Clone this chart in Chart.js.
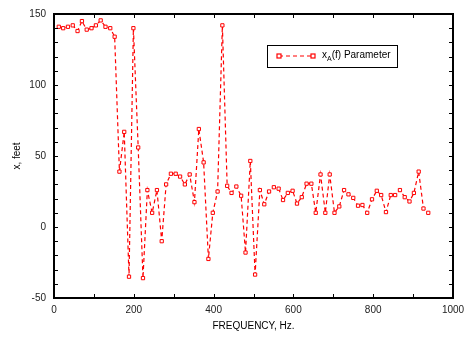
<!DOCTYPE html>
<html>
<head>
<meta charset="utf-8">
<title>x(f) Parameter</title>
<script src="https://cdn.jsdelivr.net/npm/chart.js@4.4.0/dist/chart.umd.min.js"></script>
<style>
html, body { margin: 0; padding: 0; background: #fff; }
canvas { display: block; }
</style>
</head>
<body>
<canvas id="chart_x" width="473" height="337"></canvas>
<script>
// frequency of each sample, Hz
var frequencies = [12, 23, 35, 47, 59, 70, 82, 94, 105, 117, 129, 141, 152, 164, 176, 188,
    199, 211, 223, 234, 246, 258, 270, 281, 293, 305, 316, 328, 340, 352, 363, 375,
    387, 398, 410, 422, 434, 445, 457, 469, 480, 492, 504, 516, 527, 539, 551, 563,
    574, 586, 598, 609, 621, 633, 645, 656, 668, 680, 691, 703, 715, 727, 738, 750,
    762, 773, 785, 797, 809, 820, 832, 844, 855, 867, 879, 891, 902, 914, 926, 938];

// x_A(f), feet
var xValues = [141, 140, 141, 142, 138, 145, 139, 140, 142, 145.5, 141, 140, 134, 39, 67, -35,
    140, 56, -36, 26, 10, 26, -10, 30, 37.5, 37.5, 35.5, 30, 37, 17.5, 69, 45.5,
    -22.5, 10, 25, 142, 29, 24, 28.5, 22, -18, 46.5, -33.5, 26, 16, 25, 28, 27,
    19, 24, 25.5, 16.5, 21, 30.5, 30.5, 10, 37, 10, 37, 10, 14.5, 26, 23, 20.5,
    15, 15.5, 10, 19.5, 25.5, 22.5, 10.5, 22.5, 22.5, 26, 21, 18, 24, 39, 13, 10];

var xTicks = [0, 200, 400, 600, 800, 1000];
var yTicks = [-50, 0, 50, 100, 150];
var seriesName = "(f) Parameter";

var red = "#ff0000";
var fontFamily = "'Liberation Sans', Arial, sans-serif";

var points = [];
for (var i = 0; i < frequencies.length; i++) {
    points.push({ x: frequencies[i], y: xValues[i] });
}

// frame with inward ticks on all four sides
var framePlugin = {
    id: "frame",
    afterDraw: function(chart) {
        var ctx = chart.ctx;
        var a = chart.chartArea;
        var sx = chart.scales.x;
        var sy = chart.scales.y;
        ctx.save();
        ctx.strokeStyle = "#000";
        ctx.lineWidth = 1;
        ctx.beginPath();
        for (var f = 0; f <= 1000; f += 100) {
            var px = Math.round(sx.getPixelForValue(f)) + 0.5;
            ctx.moveTo(px, a.bottom); ctx.lineTo(px, a.bottom - 4);
            ctx.moveTo(px, a.top); ctx.lineTo(px, a.top + 4);
        }
        for (var v = -50; v <= 150; v += 10) {
            var py = Math.round(sy.getPixelForValue(v)) + 0.5;
            ctx.moveTo(a.left, py); ctx.lineTo(a.left + 4, py);
            ctx.moveTo(a.right, py); ctx.lineTo(a.right - 4, py);
        }
        ctx.stroke();
        ctx.lineWidth = 2;
        ctx.strokeRect(a.left, a.top, a.right - a.left, a.bottom - a.top);
        ctx.restore();
    }
};

// boxed legend with subscript
var legendPlugin = {
    id: "boxLegend",
    afterDraw: function(chart) {
        var ctx = chart.ctx;
        var bx = 267, by = 45, bw = 130, bh = 22;
        var cy = by + bh / 2;
        ctx.save();
        ctx.fillStyle = "#fff";
        ctx.fillRect(bx, by, bw, bh);
        ctx.strokeStyle = "#000";
        ctx.lineWidth = 1;
        ctx.strokeRect(bx + 0.5, by + 0.5, bw, bh);

        ctx.strokeStyle = red;
        ctx.lineWidth = 1.2;
        ctx.setLineDash([4, 3]);
        ctx.beginPath();
        ctx.moveTo(279, cy); ctx.lineTo(313, cy);
        ctx.stroke();
        ctx.setLineDash([]);
        [279, 313].forEach(function(px) {
            ctx.fillStyle = "#fff";
            ctx.fillRect(px - 2, cy - 2, 4, 4);
            ctx.strokeRect(px - 2, cy - 2, 4, 4);
        });

        ctx.fillStyle = "#000";
        ctx.textBaseline = "middle";
        ctx.font = "10px " + fontFamily;
        var tx = 322;
        ctx.fillText("x", tx, cy - 1);
        tx += ctx.measureText("x").width;
        ctx.font = "7px " + fontFamily;
        ctx.fillText("A", tx, cy + 3);
        tx += ctx.measureText("A").width;
        ctx.font = "10px " + fontFamily;
        ctx.fillText(seriesName, tx, cy - 1);
        ctx.restore();
    }
};

new Chart(document.getElementById("chart_x"), {
    type: "line",
    data: {
        datasets: [{
            label: "xA(f) Parameter",
            data: points,
            borderColor: red,
            borderWidth: 1.2,
            borderDash: [4, 3],
            backgroundColor: "#fff",
            pointStyle: "rect",
            pointRadius: 2.3,
            pointBorderWidth: 1,
            pointBorderColor: red,
            pointBackgroundColor: "#fff",
            tension: 0
        }]
    },
    options: {
        responsive: false,
        animation: false,
        layout: { padding: { left: 0, top: 10, right: 20, bottom: 0 } },
        plugins: {
            legend: { display: false },
            tooltip: { enabled: false }
        },
        scales: {
            x: {
                type: "linear",
                min: 0,
                max: 1000,
                afterFit: function(scale) { scale.height = 39; },
                afterBuildTicks: function(scale) {
                    scale.ticks = xTicks.map(function(v) { return { value: v }; });
                },
                grid: { display: false, drawTicks: false },
                border: { display: false },
                ticks: {
                    color: "#222",
                    padding: 6,
                    maxRotation: 0,
                    font: { family: fontFamily, size: 10 },
                    callback: function(value) { return String(value); }
                },
                title: {
                    display: true,
                    text: "FREQUENCY, Hz.",
                    color: "#000",
                    padding: { top: 0, bottom: 5 },
                    font: { family: fontFamily, size: 10 }
                }
            },
            y: {
                type: "linear",
                min: -50,
                max: 150,
                afterFit: function(scale) { scale.width = 54; },
                afterBuildTicks: function(scale) {
                    scale.ticks = yTicks.map(function(v) { return { value: v }; });
                },
                grid: { display: false, drawTicks: false },
                border: { display: false },
                ticks: {
                    color: "#222",
                    padding: 8,
                    font: { family: fontFamily, size: 10 },
                    callback: function(value) { return String(value); }
                },
                title: {
                    display: true,
                    text: "x, feet",
                    color: "#000",
                    padding: { top: 11, bottom: 0 },
                    font: { family: fontFamily, size: 10 }
                }
            }
        }
    },
    plugins: [framePlugin, legendPlugin]
});
</script>
</body>
</html>
